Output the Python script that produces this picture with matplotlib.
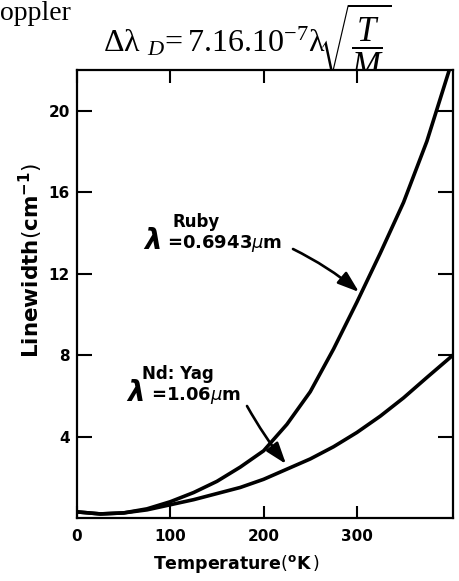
import matplotlib
matplotlib.use("Agg")
import matplotlib.pyplot as plt

# values
ruby_t = [0, 25, 50, 75, 100, 125, 150, 175, 200, 225, 250, 275, 300, 325, 350, 375, 399]
ruby = [0.3, 0.2, 0.25, 0.45, 0.8, 1.25, 1.8, 2.5, 3.3, 4.6, 6.2, 8.3, 10.6, 13.0, 15.5, 18.5, 22.0]
ndyag_t = [0, 25, 50, 75, 100, 125, 150, 175, 200, 225, 250, 275, 300, 325, 350, 375, 403]
ndyag = [0.3, 0.2, 0.25, 0.4, 0.65, 0.9, 1.2, 1.5, 1.9, 2.4, 2.9, 3.5, 4.2, 5.0, 5.9, 6.9, 8.0]

x_ticks = [0, 100, 200, 300]
y_ticks = [4, 8, 12, 16, 20]

W, H = 459, 581
bold = "DejaVu Sans"

plt.rcParams["mathtext.fontset"] = "custom"
plt.rcParams["mathtext.rm"] = "Liberation Serif"
plt.rcParams["mathtext.it"] = "Liberation Serif:italic"

fig = plt.figure(figsize=(W / 100, H / 100), dpi=100)
ax = fig.add_axes([77 / W, 1 - 518 / H, 376 / W, 448 / H])


def fx(x, y):
    # pixel position (from top-left) -> figure fraction
    return x / W, 1 - y / H


ax.plot(ruby_t, ruby, color="black", lw=2.6)
ax.plot(ndyag_t, ndyag, color="black", lw=2.6)

ax.set_xlim(0, 403)
ax.set_ylim(0, 22)
ax.set_xticks(x_ticks)
ax.set_yticks(y_ticks)
ax.tick_params(direction="in", length=9, width=1.5, top=True, right=True, labelsize=11)
ax.tick_params(axis="y", length=11, pad=5)
ax.tick_params(axis="x", pad=8)
for lab in ax.get_xticklabels() + ax.get_yticklabels():
    lab.set_fontfamily(bold)
    lab.set_fontweight("bold")
for s in ax.spines.values():
    s.set_linewidth(1.6)

# axis labels
fig.text(*fx(236, 564), r"Temperature$\left(^{\mathbf{o}}\mathbf{K}\,\right)$",
         ha="center", va="center", fontsize=12.5, fontweight="bold", family=bold,
         math_fontfamily="dejavusans")
fig.text(*fx(31, 260), r"Linewidth$\left(\mathbf{cm}^{\mathbf{-1}}\right)$",
         ha="center", va="center", rotation=90, fontsize=15.5, fontweight="bold",
         family=bold, math_fontfamily="dejavusans")

# curve labels
fig.text(*fx(172, 227), "Ruby", ha="left", va="baseline", fontsize=12,
         fontweight="bold", family=bold)
fig.text(*fx(144, 249), "λ", ha="left", va="baseline", fontsize=20,
         fontweight="bold", style="italic", family=bold)
fig.text(*fx(167, 248), r"=0.6943$\mu$m", ha="left", va="baseline", fontsize=13,
         fontweight="bold", family=bold, math_fontfamily="dejavusans")
fig.text(*fx(142, 379), "Nd: Yag", ha="left", va="baseline", fontsize=12,
         fontweight="bold", family=bold)
fig.text(*fx(127, 401), "λ", ha="left", va="baseline", fontsize=20,
         fontweight="bold", style="italic", family=bold)
fig.text(*fx(151, 400), r"=1.06$\mu$m", ha="left", va="baseline", fontsize=13,
         fontweight="bold", family=bold, math_fontfamily="dejavusans")

arrow = dict(arrowstyle="-|>,head_length=1.3,head_width=0.45", color="black",
             lw=1.9, shrinkA=0, shrinkB=0)
ax.annotate("", xy=fx(359, 292), xytext=fx(293, 249),
            xycoords="figure fraction", textcoords="figure fraction",
            arrowprops=dict(arrow, connectionstyle="arc3,rad=-0.06"))
ax.annotate("", xy=fx(286, 464), xytext=fx(247, 406),
            xycoords="figure fraction", textcoords="figure fraction",
            arrowprops=dict(arrow, connectionstyle="arc3,rad=0.04"))

# header text, the lower part is hidden behind the axes
fig.text(*fx(0, 20), "oppler", ha="left", va="baseline", fontsize=20,
         family="Liberation Serif", zorder=-1)
fig.text(*fx(103, 52),
         r"$\mathrm{\Delta\lambda}\ _{D}\!=7.16.10^{-7}\mathrm{\lambda}$",
         ha="left", va="baseline", fontsize=23, zorder=-1)
fig.text(*fx(318, 2), r"$\sqrt{\dfrac{T}{M}}$",
         ha="left", va="top", fontsize=25, zorder=-1)

fig.savefig("out.png", dpi=100)
